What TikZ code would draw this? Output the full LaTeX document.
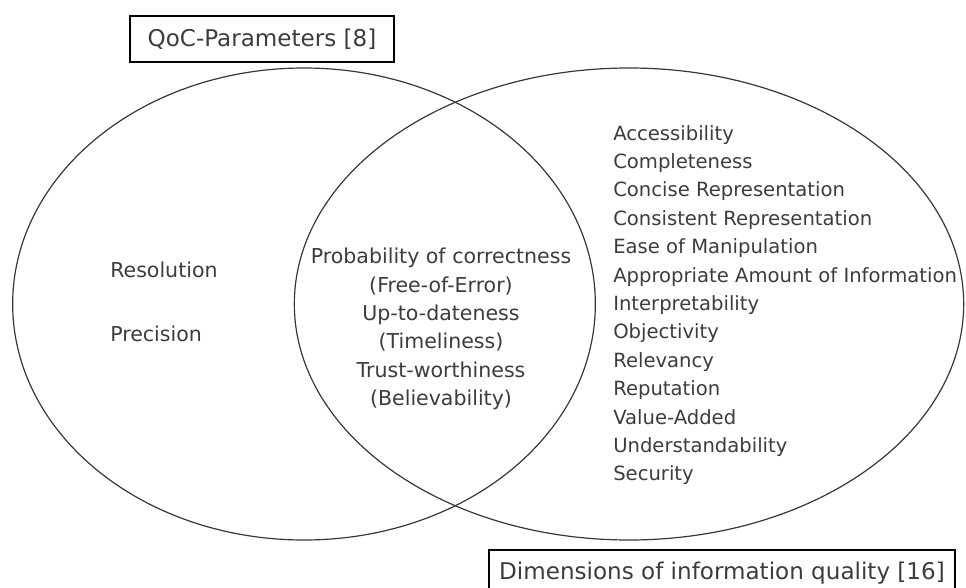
\documentclass[tikz,border=0pt]{standalone}
\usepackage{fontspec}
\setmainfont{DejaVu Sans}
\usepackage{tikz}
\usetikzlibrary{shapes.geometric}
\definecolor{inkgray}{RGB}{60,60,60}
\definecolor{linegray}{RGB}{55,55,55}

\begin{document}
\begin{tikzpicture}[x=0.75pt,y=-0.75pt,
        venn/.style={draw=linegray,line width=0.9pt,ellipse,inner sep=0pt},
        titlebox/.style={draw=black,line width=1.4pt,inner sep=0pt,
            font=\fontsize{17.3}{21.3}\selectfont,text=inkgray},
        item/.style={inner sep=0pt,text=inkgray,
            font=\fontsize{15.4}{21.3}\selectfont}]
                \useasboundingbox (0,0) rectangle (966,588);
                % the two sets
                \node[venn,minimum width=437pt,minimum height=354pt]
                    (qoc) at (304,304) {};
                \node[venn,minimum width=502pt,minimum height=354pt]
                    (diq) at (629,304) {};
                % set titles
                \node[titlebox,minimum width=198pt,minimum height=34.5pt]
                    (qoctitle) at (262,39) {QoC-Parameters [8]};
                \node[titlebox,minimum width=349.5pt,minimum height=34.5pt]
                    (diqtitle) at (722,573) {Dimensions of information quality [16]};
                % left part only
                \node[item,anchor=west] (resolution) at (110,270) {Resolution};
                \node[item,anchor=west] (precision) at (110,334) {Precision};
                % common part
                \node[item,align=center] (common) at (441,329)
                    {Probability of correctness\\(Free-of-Error)\\Up-to-dateness\\(Timeliness)\\Trust-worthiness\\(Believability)};
                % right part only
                \node[item,align=left,anchor=north west,
                      font=\fontsize{14.7}{21.3}\selectfont] (dims) at (613,125)
                    {Accessibility\\Completeness\\Concise Representation\\Consistent Representation\\Ease of Manipulation\\Appropriate Amount of Information\\Interpretability\\Objectivity\\Relevancy\\Reputation\\Value-Added\\Understandability\\Security};
            \end{tikzpicture}
\end{document}
